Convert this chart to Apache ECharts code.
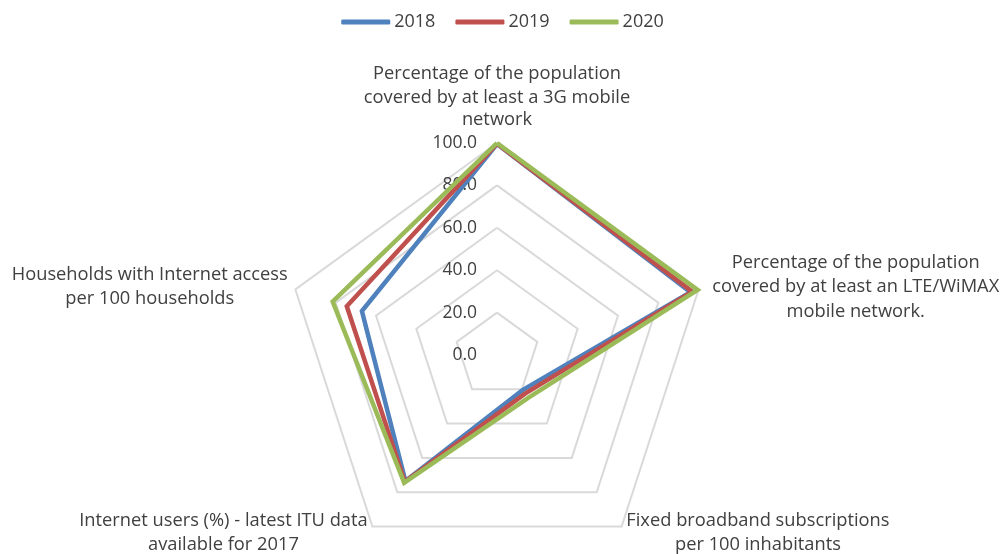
<!DOCTYPE html>
<html>
<head>
<meta charset="utf-8">
<script src="https://cdn.jsdelivr.net/npm/echarts@6/dist/echarts.min.js"></script>
<style>
html,body{margin:0;padding:0;background:#fff;}
#chart{width:1005px;height:554px;}
</style>
</head>
<body>
<div id="chart"></div>
<script>
// Indicators in clockwise order starting at the top (as in the reference)
var categories = [
  'Percentage of the population\ncovered by at least a 3G mobile\nnetwork',
  'Percentage of the population\ncovered by at least an LTE/WiMAX\nmobile network.',
  'Fixed broadband subscriptions\nper 100 inhabitants',
  'Internet users (%) - latest ITU data\navailable for 2017',
  'Households with Internet access\nper 100 households'
];
var seriesNames = ['2018', '2019', '2020'];
var values2018 = [99.5, 96.0, 20.5, 73.5, 67.0];
var values2019 = [99.7, 96.8, 22.5, 74.0, 74.5];
var values2020 = [100.0, 99.5, 25.0, 74.5, 81.5];
var tickLabelsMax = 100;

var colors = ['#4F81BD', '#C0504D', '#9BBB59'];
var font = '"Open Sans", "Noto Sans", sans-serif';
var fs = 17.5;
var nfs = 18.3;

// ECharts lays indicators out counter-clockwise; reorder to get clockwise.
var order = [0, 4, 3, 2, 1];
function reorder(arr) { return order.map(function (i) { return arr[i]; }); }

var indicators = reorder(categories).map(function (name, k) {
  var ind = { name: name, min: 0, max: tickLabelsMax };
  if (k === 0) {
    ind.axisLabel = {
      show: true,
      color: '#404040',
      fontSize: fs,
      fontFamily: font,
      margin: 20,
      showMinLabel: true,
      formatter: function (v) { return Number(v).toFixed(1); }
    };
  }
  return ind;
});

var allValues = [values2018, values2019, values2020];
var topName = categories[0];
var rightName = categories[1];

var chart = echarts.init(document.getElementById('chart'), null, { renderer: 'canvas' });
chart.setOption({
  animation: false,
  backgroundColor: '#ffffff',
  color: colors,
  legend: {
    data: seriesNames,
    top: 8,
    left: 'center',
    icon: 'roundRect',
    itemWidth: 49,
    itemHeight: 5,
    itemGap: 20,
    textStyle: { color: '#404040', fontSize: 18, fontFamily: font, padding: [0, 0, 0, -1] }
  },
  radar: {
    center: [497, 355],
    radius: 212,
    startAngle: 90,
    shape: 'polygon',
    splitNumber: 5,
    axisNameGap: 8,
    axisName: {
      color: '#404040',
      fontSize: nfs,
      fontFamily: font,
      formatter: function (name) {
        var lines = name.split('\n');
        var style = name === topName ? 't' : (name === rightName ? 'r' : 'c');
        return lines.map(function (l, i) {
          var s = style;
          if (style === 't') s = (i === lines.length - 1) ? 'tb' : 'c';
          return '{' + s + '|' + l + '}';
        }).join('\n');
      },
      rich: {
        c: { align: 'center', color: '#404040', fontSize: nfs, fontFamily: font, lineHeight: 24.5 },
        tb: { align: 'center', color: '#404040', fontSize: nfs, fontFamily: font, lineHeight: 24.5, padding: [0, 0, 5, 0] },
        r: { align: 'center', color: '#404040', fontSize: nfs, fontFamily: font, lineHeight: 24.5, padding: [0, 0, 0, 6] }
      }
    },
    axisLine: { show: false },
    axisTick: { show: false },
    splitArea: { show: false },
    splitLine: { lineStyle: { color: '#D9D9D9', width: 2 } },
    indicator: indicators
  },
  series: [{
    type: 'radar',
    symbol: 'none',
    data: allValues.map(function (vals, i) {
      return {
        name: seriesNames[i],
        value: reorder(vals),
        lineStyle: { color: colors[i], width: 4.5, join: 'miter' },
        itemStyle: { color: colors[i] }
      };
    })
  }]
});
</script>
</body>
</html>
